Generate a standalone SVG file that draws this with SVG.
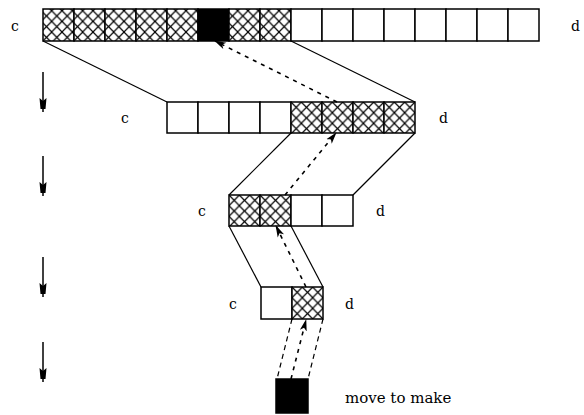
<svg xmlns="http://www.w3.org/2000/svg" width="584" height="415" viewBox="0 0 584 415">
<style>
.cell{fill:#fff;stroke:#000;stroke-width:1.5}
.hat{fill:url(#hatch);stroke:#000;stroke-width:1.5}
.blk{fill:#000;stroke:#000;stroke-width:1.5}
.ln{stroke:#000;stroke-width:1.2;fill:none}
.dl{stroke:#000;stroke-width:1.2;fill:none;stroke-dasharray:5,4}
.da{stroke:#000;stroke-width:1.6;fill:none;stroke-dasharray:4,5}
.lbl{font-family:"DejaVu Serif","Liberation Serif",serif;font-size:14px;fill:#000}
</style>
<defs>
<pattern id="hatch" patternUnits="userSpaceOnUse" x="0" y="0" width="10.333" height="10.667">
<rect width="10.333" height="10.667" fill="#fff"/>
<path d="M0 0 L10.333 10.667 M10.333 0 L0 10.667" stroke="#000" stroke-width="1.2"/>
</pattern>
<marker id="ah" viewBox="0 0 12 8" refX="11" refY="4" markerWidth="12" markerHeight="8" markerUnits="userSpaceOnUse" orient="auto">
<path d="M0 0.5 L12 4 L0 7.5 L3 4 Z" fill="#000"/>
</marker>
<g id="down">
<line x1="0" y1="0" x2="0" y2="40" stroke="#000" stroke-width="1.5"/>
<path d="M-3.5 26 L0 29 L3.5 26 L2.5 37 L-2.5 37 Z" fill="#000"/>
</g>
</defs>

<g id="row1">
<rect class="hat" x="43" y="9" width="31" height="32"/>
<rect class="hat" x="74" y="9" width="31" height="32"/>
<rect class="hat" x="105" y="9" width="31" height="32"/>
<rect class="hat" x="136" y="9" width="31" height="32"/>
<rect class="hat" x="167" y="9" width="31" height="32"/>
<rect class="blk" x="198" y="9" width="31" height="32"/>
<rect class="hat" x="229" y="9" width="31" height="32"/>
<rect class="hat" x="260" y="9" width="31" height="32"/>
<rect class="cell" x="291" y="9" width="31" height="32"/>
<rect class="cell" x="322" y="9" width="31" height="32"/>
<rect class="cell" x="353" y="9" width="31" height="32"/>
<rect class="cell" x="384" y="9" width="31" height="32"/>
<rect class="cell" x="415" y="9" width="31" height="32"/>
<rect class="cell" x="446" y="9" width="31" height="32"/>
<rect class="cell" x="477" y="9" width="31" height="32"/>
<rect class="cell" x="508" y="9" width="31" height="32"/>
<text class="lbl" x="11" y="31">c</text>
<text class="lbl" x="571" y="31">d</text>
</g>

<g id="row2">
<rect class="cell" x="167" y="102" width="31" height="31"/>
<rect class="cell" x="198" y="102" width="31" height="31"/>
<rect class="cell" x="229" y="102" width="31" height="31"/>
<rect class="cell" x="260" y="102" width="31" height="31"/>
<g transform="translate(291,102)"><rect class="hat" width="31" height="31"/></g>
<g transform="translate(322,102)"><rect class="hat" width="31" height="31"/></g>
<g transform="translate(353,102)"><rect class="hat" width="31" height="31"/></g>
<g transform="translate(384,102)"><rect class="hat" width="31" height="31"/></g>
<text class="lbl" x="121" y="123">c</text>
<text class="lbl" x="439" y="123">d</text>
</g>

<g id="row3">
<g transform="translate(229,195)"><rect class="hat" width="31" height="31"/></g>
<g transform="translate(260,195)"><rect class="hat" width="31" height="31"/></g>
<rect class="cell" x="291" y="195" width="31" height="31"/>
<rect class="cell" x="322" y="195" width="31" height="31"/>
<text class="lbl" x="198" y="216">c</text>
<text class="lbl" x="376" y="216">d</text>
</g>

<g id="row4">
<rect class="cell" x="261" y="287" width="31" height="32"/>
<g transform="translate(292,287)"><rect class="hat" width="31" height="32"/></g>
<text class="lbl" x="229" y="309">c</text>
<text class="lbl" x="345" y="309">d</text>
</g>

<g id="move">
<rect class="blk" x="276" y="379" width="32" height="34"/>
<text class="lbl" x="345" y="403" style="font-size:15px">move to make</text>
</g>

<g id="connectors">
<line class="ln" x1="43" y1="41" x2="167" y2="102"/>
<line class="ln" x1="291" y1="41" x2="415" y2="102"/>
<line class="ln" x1="291" y1="133" x2="229" y2="195"/>
<line class="ln" x1="415" y1="133" x2="353" y2="195"/>
<line class="ln" x1="229" y1="226" x2="261" y2="287"/>
<line class="ln" x1="291" y1="226" x2="323" y2="287"/>
<line class="dl" x1="292" y1="319" x2="277" y2="379"/>
<line class="dl" x1="323" y1="319" x2="308" y2="379"/>
<line class="da" x1="291" y1="379" x2="306" y2="320" marker-end="url(#ah)"/>
<line class="da" x1="306" y1="287" x2="276" y2="226" marker-end="url(#ah)"/>
<line class="da" x1="285" y1="195" x2="336" y2="133" marker-end="url(#ah)"/>
<line class="da" x1="337" y1="102" x2="215" y2="41" marker-end="url(#ah)"/>
<use href="#down" x="43" y="72"/>
<use href="#down" x="43" y="156"/>
<use href="#down" x="43" y="257"/>
<use href="#down" x="43" y="342"/>
</g>
</svg>
